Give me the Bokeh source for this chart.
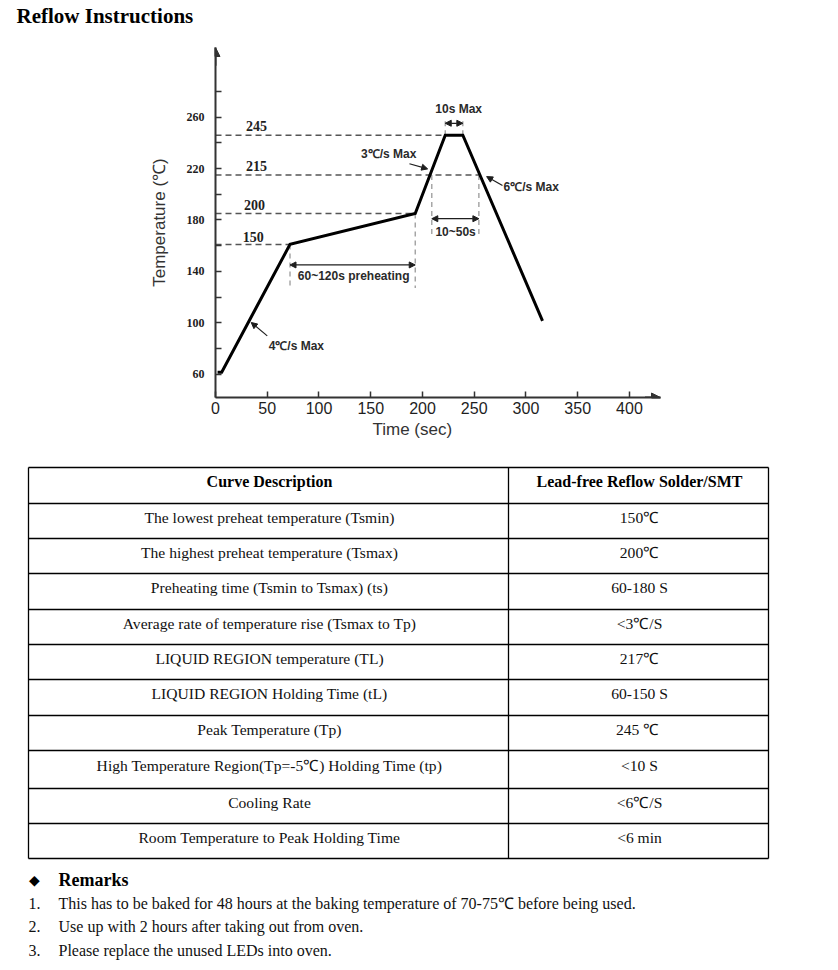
from bokeh.plotting import figure
from bokeh.models import Range1d, FixedTicker, Arrow, NormalHead
from bokeh.layouts import column
from bokeh.core.properties import value
from bokeh.embed import file_html
from bokeh.resources import INLINE

# ---------------- data ----------------
title_text = "Reflow Instructions"

# reflow profile as drawn (time s, temperature on the drawing's scale)
time_s = [2, 6, 72, 193, 222, 239, 316]
temp_c = [61.5, 61.5, 161, 185, 246, 246, 101.5]

x_ticks = [0, 50, 100, 150, 200, 250, 300, 350, 400]
y_ticks = [60, 100, 140, 180, 220, 260]
y_minor = [80, 120, 160, 200, 240, 280]

# horizontal guide levels (drawn level, end time) and their printed labels
level_y = [246, 215, 185, 161]
level_x_end = [222, 254.5, 193, 72]
level_label = ["245", "215", "200", "150"]
level_label_x = [39.7, 39.5, 37.7, 36.5]
level_label_y = [253.5, 222.4, 192, 167]

# vertical guide lines
vline_x = [72, 193, 209, 254.5, 222, 239]
vline_y0 = [161, 185, 215, 215, 246, 246]
vline_y1 = [127, 127, 167, 167, 259, 259]

# double arrows: (x_start, x_end, y)
span_x0 = [222, 209, 72]
span_x1 = [239, 254.5, 193]
span_y = [255.3, 181, 145]

# pointer arrows
ptr_x0 = [187.4, 277.3, 50]
ptr_y0 = [223.8, 206.8, 89.8]
ptr_x1 = [205, 262, 34.5]
ptr_y1 = [219.8, 213.8, 100.2]

# annotation texts
note_text = ["10s Max", "3\u2103/s Max", "6\u2103/s Max", "10~50s", "60~120s preheating", "4\u2103/s Max"]
note_x = [235, 167.3, 305.1, 232, 133.5, 78.1]
note_y = [266.7, 231, 205.6, 171, 136.6, 82]

x_title = "Time (sec)"
y_title = "Temperature (\u2103)"

# table
headers = ["Curve Description", "Lead-free Reflow Solder/SMT"]
desc = [
    "The lowest preheat temperature (Tsmin)",
    "The highest preheat temperature (Tsmax)",
    "Preheating time (Tsmin to Tsmax) (ts)",
    "Average rate of temperature rise (Tsmax to Tp)",
    "LIQUID REGION temperature (TL)",
    "LIQUID REGION Holding Time (tL)",
    "Peak Temperature (Tp)",
    "High Temperature Region(Tp=-5\u2103) Holding Time (tp)",
    "Cooling Rate",
    "Room Temperature to Peak Holding Time",
]
vals = ["150\u2103", "200\u2103", "60-180 S", "<3\u2103/S", "217\u2103", "60-150 S",
        "245  \u2103", "<10 S", "<6\u2103/S", "<6 min"]

remarks_title = "Remarks"
remarks = [
    "This has to be baked for 48 hours at the baking temperature of 70-75\u2103  before being used.",
    "Use up with 2 hours after taking out from oven.",
    "Please replace the unused LEDs into oven.",
]

W = 830
SERIF = value("Liberation Serif")
SANS = value("Liberation Sans")
INK = "#1e1e1e"
AX = "#333333"

# ---------------- title ----------------
tp = figure(width=W, height=38, x_range=Range1d(0, W), y_range=Range1d(38, 0),
            x_axis_type=None, y_axis_type=None, min_border=0, frame_align=False,
            output_backend="svg", toolbar_location=None)
tp.outline_line_color = None
tp.grid.visible = False
tp.text(x=[16], y=[15], text=[title_text], text_font=SERIF, text_font_size="21px",
        text_font_style="bold", text_baseline="middle", text_align="left", text_color="#000")

# ---------------- chart ----------------
p = figure(width=W, height=420, x_range=Range1d(0, 430), y_range=Range1d(41.8, 314.3),
           min_border_left=215, min_border_right=W - 660, min_border_top=9, min_border_bottom=61,
           frame_align=False, output_backend="svg", toolbar_location=None,
           title=x_title, title_location="below")
p.grid.visible = False
p.outline_line_color = None
p.title.align = "left"
p.title.offset = 157
p.title.standoff = 2
p.title.text_font = "Liberation Sans"
p.title.text_font_size = "17px"
p.title.text_font_style = "normal"
p.title.text_color = AX

p.xaxis.ticker = FixedTicker(ticks=x_ticks)
p.yaxis.ticker = FixedTicker(ticks=y_ticks, minor_ticks=y_minor)
for ax in (p.xaxis[0], p.yaxis[0]):
    ax.axis_line_color = AX
    ax.axis_line_width = 2
    ax.major_tick_in = 6
    ax.major_tick_out = 0
    ax.major_tick_line_color = AX
    ax.major_tick_line_width = 1.5
p.yaxis.minor_tick_in = 6
p.yaxis.minor_tick_out = 0
p.yaxis.minor_tick_line_color = AX
p.yaxis.minor_tick_line_width = 1.5
p.xaxis.minor_tick_line_color = None
p.xaxis.major_label_text_font = "Liberation Sans"
p.xaxis.major_label_text_font_size = "16px"
p.xaxis.major_label_text_color = INK
p.xaxis.major_label_standoff = 4
p.yaxis.major_label_text_font = "Liberation Serif"
p.yaxis.major_label_text_font_size = "12px"
p.yaxis.major_label_text_font_style = "bold"
p.yaxis.major_label_text_color = INK
p.yaxis.major_label_standoff = 11
p.yaxis.axis_label = y_title
p.yaxis.axis_label_text_font = "Liberation Sans"
p.yaxis.axis_label_text_font_size = "17px"
p.yaxis.axis_label_text_font_style = "normal"
p.yaxis.axis_label_text_color = AX
p.yaxis.axis_label_standoff = 15

# horizontal dashed guides
p.segment(x0=[0] * len(level_y), x1=level_x_end, y0=level_y, y1=level_y,
          line_color="#555555", line_width=1.5, line_dash="6 4")
# vertical dashed guides
p.segment(x0=vline_x, x1=vline_x, y0=vline_y0, y1=vline_y1,
          line_color="#999999", line_width=1.3, line_dash="5 4")

# profile curve
p.line(time_s, temp_c, line_color="#000000", line_width=3, line_join="miter")

# level labels
p.text(x=level_label_x, y=level_label_y, text=level_label, text_font=SERIF,
       text_font_size="14px", text_font_style="bold", text_align="center",
       text_baseline="middle", text_color=INK)

# notes
p.text(x=note_x, y=note_y, text=note_text, text_font=SANS, text_font_size="12px",
       text_font_style="bold", text_align="center", text_baseline="middle", text_color="#2a2a2a")

# double arrows
for x0, x1, yy in zip(span_x0, span_x1, span_y):
    p.add_layout(Arrow(x_start=x0, y_start=yy, x_end=x1, y_end=yy, line_width=1.3,
                       line_color=INK,
                       start=NormalHead(size=6, fill_color=INK, line_color=INK),
                       end=NormalHead(size=6, fill_color=INK, line_color=INK)))
# pointer arrows
for x0, y0, x1, y1 in zip(ptr_x0, ptr_y0, ptr_x1, ptr_y1):
    p.add_layout(Arrow(x_start=x0, y_start=y0, x_end=x1, y_end=y1, line_width=1.2,
                       line_color=INK,
                       end=NormalHead(size=6, fill_color=INK, line_color=INK)))

# axis arrow heads
p.add_layout(Arrow(x_start=0, y_start=300, x_end=0, y_end=314.3, line_width=2, line_color=AX,
                   end=NormalHead(size=9, fill_color=AX, line_color=AX)))
p.add_layout(Arrow(x_start=415, y_start=41.8, x_end=430, y_end=41.8, line_width=2, line_color=AX,
                   end=NormalHead(size=9, fill_color=AX, line_color=AX)))

# ---------------- table + remarks ----------------
H2 = 504
t = figure(width=W, height=H2, x_range=Range1d(0, W), y_range=Range1d(H2, 0),
           x_axis_type=None, y_axis_type=None, min_border=0, frame_align=False,
           output_backend="svg", toolbar_location=None)
t.outline_line_color = None
t.grid.visible = False

row_lines = [9, 45, 80, 115, 151, 186, 221, 257, 292, 330, 365, 400]
left, mid, right = 28, 508, 768
t.segment(x0=[left] * len(row_lines), x1=[right] * len(row_lines), y0=row_lines, y1=row_lines,
          line_color="#000", line_width=1.3)
t.segment(x0=[left, mid, right], x1=[left, mid, right], y0=[row_lines[0]] * 3,
          y1=[row_lines[-1]] * 3, line_color="#000", line_width=1.3)

centers = [(a + b) / 2 - 4 for a, b in zip(row_lines[:-1], row_lines[1:])]
c1 = (left + mid) / 2 + 1
c2 = (mid + right) / 2 + 1
t.text(x=[c1, c2], y=[centers[0]] * 2, text=headers, text_font=SERIF, text_font_size="16px",
       text_font_style="bold", text_align="center", text_baseline="middle", text_color="#000")
t.text(x=[c1] * len(desc), y=centers[1:], text=desc, text_font=SERIF, text_font_size="15.6px",
       text_align="center", text_baseline="middle", text_color="#111")
t.text(x=[c2] * len(vals), y=centers[1:], text=vals, text_font=SERIF, text_font_size="15.6px",
       text_align="center", text_baseline="middle", text_color="#111")

# remarks
t.text(x=[34], y=[421], text=["\u25c6"], text_font=value("DejaVu Sans"), text_font_size="14px",
       text_align="center", text_baseline="middle", text_color="#000")
t.text(x=[58], y=[421], text=[remarks_title], text_font=SERIF, text_font_size="18px",
       text_font_style="bold", text_align="left", text_baseline="middle", text_color="#000")
rem_y = [445, 468, 492]
t.text(x=[28] * len(remarks), y=rem_y, text=[f"{i + 1}." for i in range(len(remarks))],
       text_font=SERIF, text_font_size="16px", text_align="left", text_baseline="middle",
       text_color="#111")
t.text(x=[58] * len(remarks), y=rem_y, text=remarks, text_font=SERIF, text_font_size="16px",
       text_align="left", text_baseline="middle", text_color="#111")

layout = column(tp, p, t, spacing=0)
open("out.html", "w").write(file_html(layout, INLINE))
